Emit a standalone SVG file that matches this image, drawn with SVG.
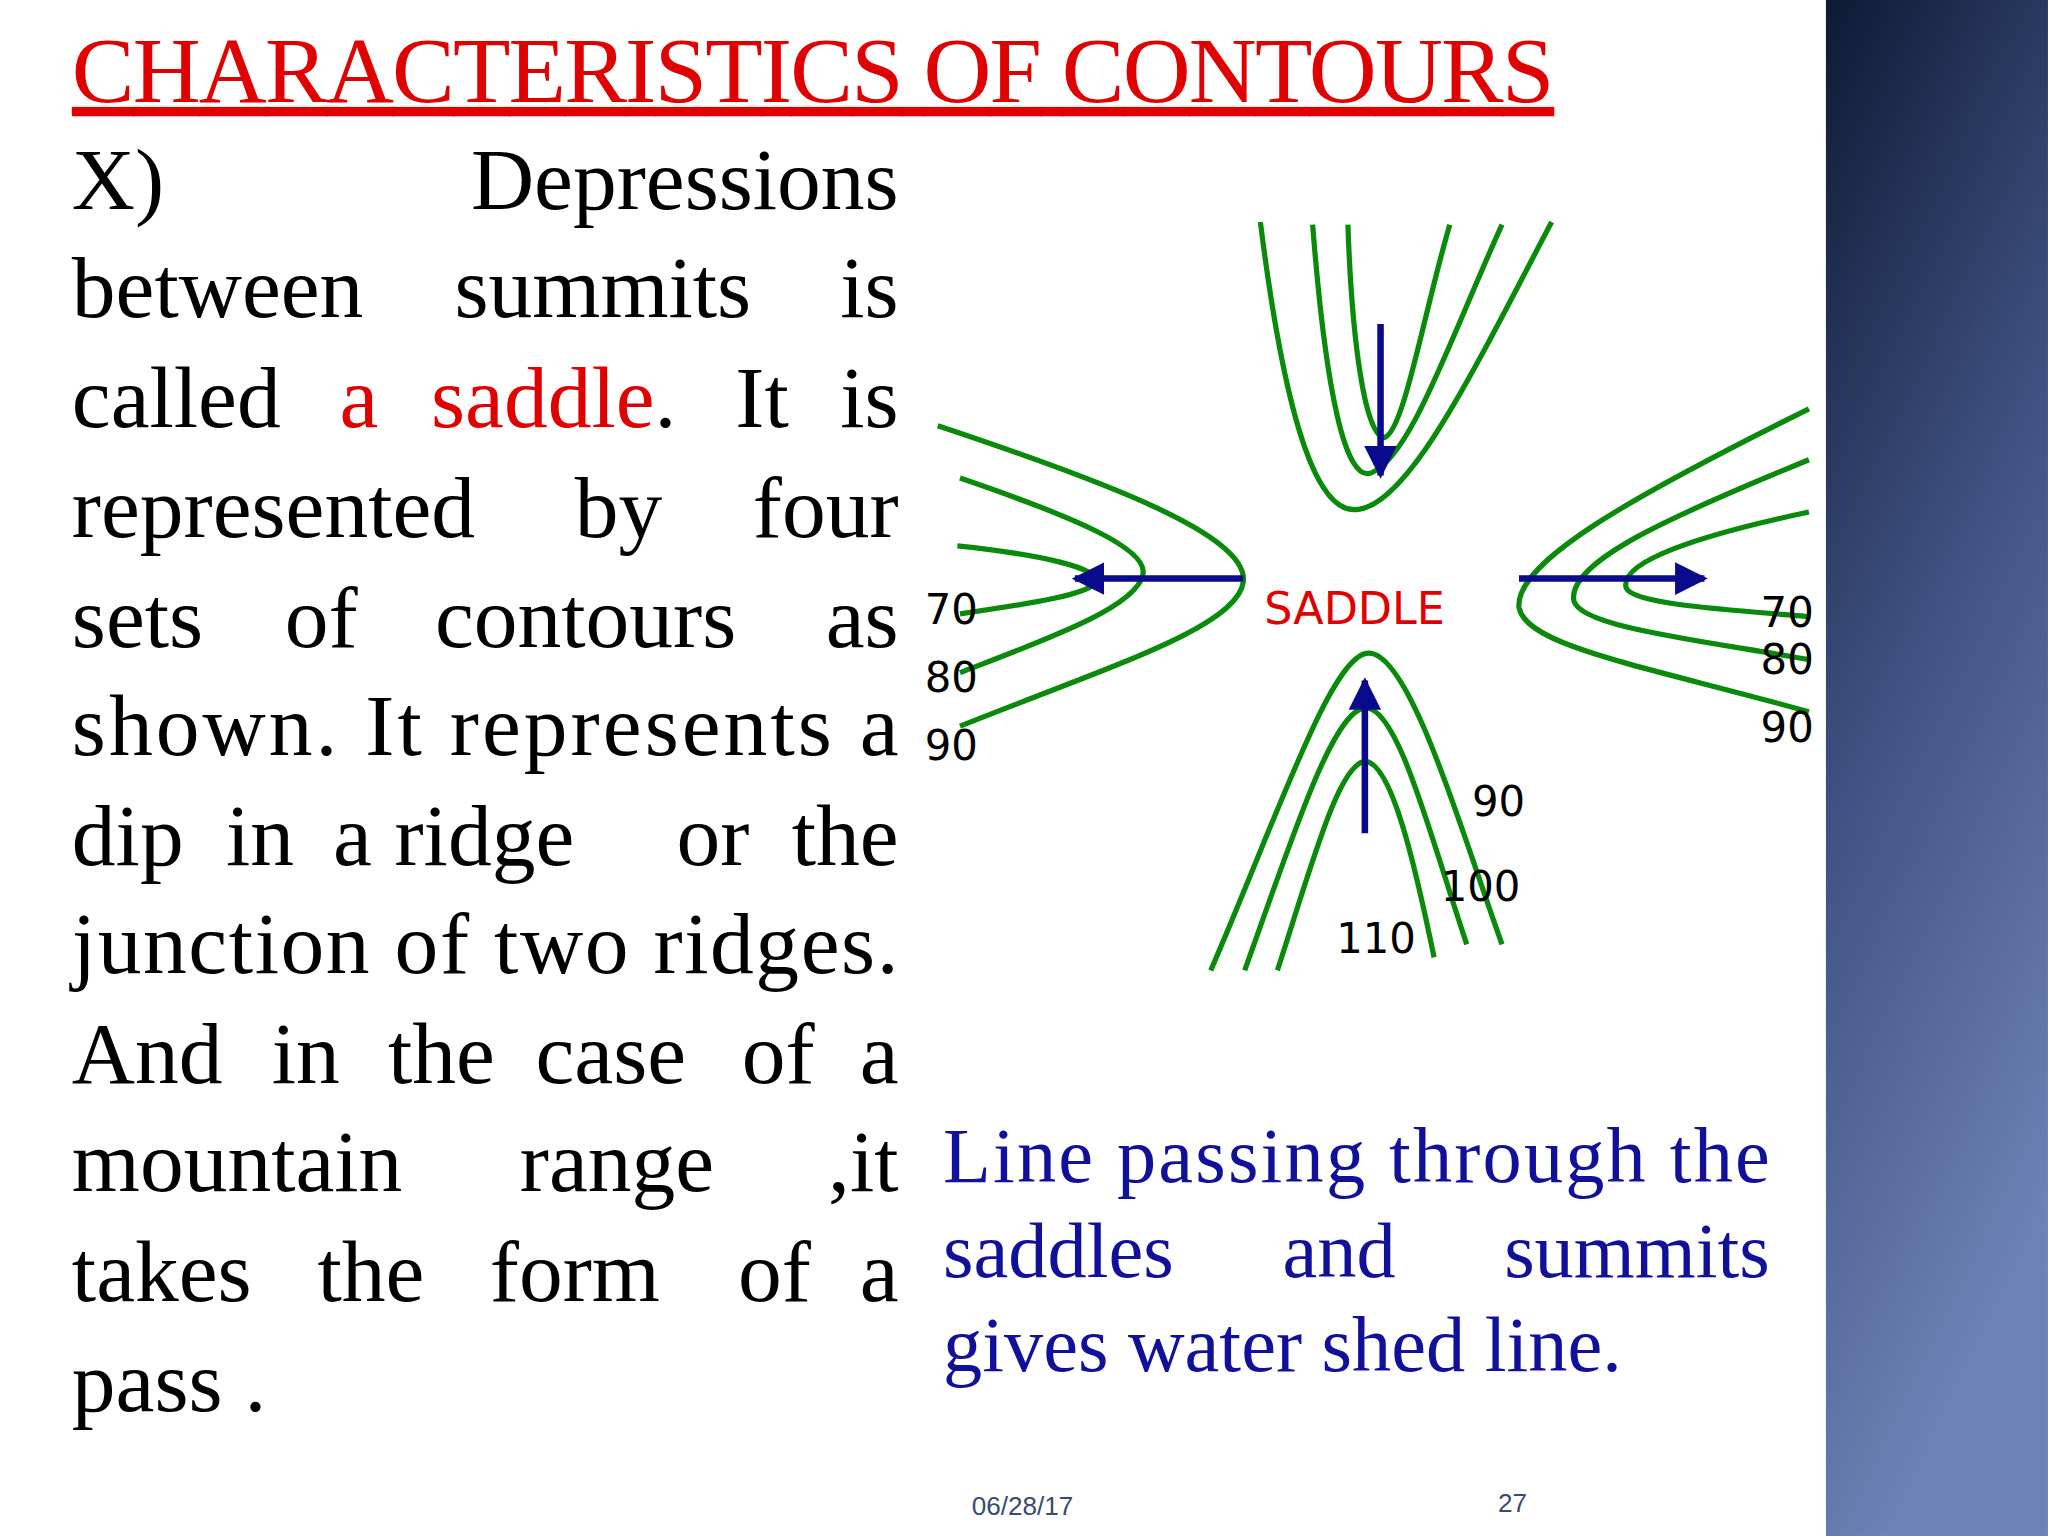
<svg xmlns="http://www.w3.org/2000/svg" width="2048" height="1536" viewBox="0 0 2048 1536">
<defs>
<linearGradient id="pg" x1="0" y1="0" x2="0.3" y2="1"><stop offset="0" stop-color="#0e1a33"/><stop offset="0.5" stop-color="#3f5283"/><stop offset="1" stop-color="#6d82b6"/></linearGradient>
<marker id="ah" viewBox="0 0 10 10" refX="9" refY="5" markerWidth="5" markerHeight="5" orient="auto"><path d="M0,0 L10,5 L0,10 z" fill="#0a0a8c"/></marker>
<style>
.b{font-family:"Liberation Serif",serif;font-size:67px;fill:#000}
.r{fill:#e00000}
.bl{font-family:"Liberation Serif",serif;font-size:60px;fill:#10109a}
.c{fill:none;stroke:#0a8a0a;stroke-width:4}
.a{stroke:#0a0a8c;stroke-width:5;marker-end:url(#ah)}
.l{font-family:"DejaVu Sans",sans-serif;font-size:32px;fill:#000}
.f{font-family:"Liberation Sans",sans-serif;font-size:20px;fill:#3a4a70}
</style>
</defs>
<rect width="2048" height="1536" fill="#fff"/>
<g transform="scale(1.3061)">
<rect x="1398" y="0" width="170" height="1176" fill="url(#pg)"/>
<g id="title"><text x="55" y="78" class="b r" font-size="72" style="font-size:72px" textLength="1135" text-decoration="underline">CHARACTERISTICS OF CONTOURS</text></g>
<g id="body">
<text class="b" x="55" y="160">X)</text><text class="b" x="688" y="160" text-anchor="end">Depressions</text>
<text class="b" x="55" y="243">between</text><text class="b" x="348" y="243">summits</text><text class="b" x="688" y="243" text-anchor="end">is</text>
<text class="b" x="55" y="327">called <tspan class="r" x="260">a</tspan><tspan class="r" x="330">saddle</tspan>.</text><text class="b" x="563" y="327">It</text><text class="b" x="688" y="327" text-anchor="end">is</text>
<text class="b" x="55" y="411">represented</text><text class="b" x="440" y="411">by</text><text class="b" x="688" y="411" text-anchor="end">four</text>
<text class="b" x="55" y="495">sets</text><text class="b" x="218" y="495">of</text><text class="b" x="333" y="495">contours</text><text class="b" x="688" y="495" text-anchor="end">as</text>
<text class="b" x="55" y="578" textLength="633" lengthAdjust="spacing">shown. It represents a</text>
<text class="b" x="55" y="662">dip</text><text class="b" x="173" y="662">in</text><text class="b" x="255" y="662">a</text><text class="b" x="302" y="662">ridge</text><text class="b" x="518" y="662">or</text><text class="b" x="688" y="662" text-anchor="end">the</text>
<text class="b" x="55" y="745" textLength="633" lengthAdjust="spacing">junction of two ridges.</text>
<text class="b" x="55" y="829">And</text><text class="b" x="208" y="829">in</text><text class="b" x="297" y="829">the</text><text class="b" x="410" y="829">case</text><text class="b" x="568" y="829">of</text><text class="b" x="688" y="829" text-anchor="end">a</text>
<text class="b" x="55" y="912">mountain</text><text class="b" x="398" y="912">range</text><text class="b" x="688" y="912" text-anchor="end">,it</text>
<text class="b" x="55" y="996">takes</text><text class="b" x="243" y="996">the</text><text class="b" x="375" y="996">form</text><text class="b" x="565" y="996">of</text><text class="b" x="688" y="996" text-anchor="end">a</text>
<text class="b" x="55" y="1080">pass .</text>
</g>
<g id="note">
<text class="bl" x="722" y="905" textLength="633" lengthAdjust="spacing">Line passing through the</text>
<text class="bl" x="722" y="978">saddles</text><text class="bl" x="982" y="978">and</text><text class="bl" x="1355" y="978" text-anchor="end">summits</text>
<text class="bl" x="722" y="1050">gives water shed line.</text>
</g>
<g id="contours">
<path class="c" d="M965,170 C985,330 1010,395 1040,390 C1080,385 1130,280 1188,170"/>
<path class="c" d="M1005,172 C1015,300 1030,370 1050,362 C1080,350 1110,260 1150,172"/>
<path class="c" d="M1032,172 C1035,260 1045,335 1060,335 C1075,330 1090,240 1110,172"/>
<path class="c" d="M718,326 C850,370 955,410 952,445 C948,480 850,510 735,556"/>
<path class="c" d="M735,366 C820,395 880,420 875,440 C870,465 800,490 735,515"/>
<path class="c" d="M733,418 C800,425 840,435 840,445 C835,455 790,462 735,470"/>
<path class="c" d="M1385,313 C1250,380 1160,430 1163,465 C1168,495 1260,510 1385,545"/>
<path class="c" d="M1385,352 C1280,395 1200,430 1205,460 C1210,480 1300,490 1385,505"/>
<path class="c" d="M1385,392 C1300,410 1240,430 1245,450 C1250,462 1310,466 1385,472"/>
<path class="c" d="M927,743 C980,620 1020,500 1048,500 C1080,500 1120,640 1150,723"/>
<path class="c" d="M953,743 C990,640 1020,545 1045,542 C1070,540 1095,640 1123,723"/>
<path class="c" d="M978,743 C1005,660 1025,585 1045,583 C1065,583 1083,660 1098,733"/>
</g>
<g id="connectors">
<line class="a" x1="1057" y1="248" x2="1057" y2="364"/>
<line class="a" x1="952" y1="443" x2="823" y2="443"/>
<line class="a" x1="1163" y1="443" x2="1305" y2="443"/>
<line class="a" x1="1045" y1="638" x2="1045" y2="521"/>
</g>
<g id="labels">
<text class="l" x="708" y="478">70</text><text class="l" x="708" y="530">80</text><text class="l" x="708" y="582">90</text>
<text class="l" x="1348" y="480">70</text><text class="l" x="1348" y="516">80</text><text class="l" x="1348" y="568">90</text>
<text class="l" x="1127" y="625">90</text><text class="l" x="1103" y="690">100</text><text class="l" x="1023" y="730">110</text>
<text class="l" x="968" y="478" style="fill:#e00000;font-size:34px">SADDLE</text>
</g>
<g id="footer"><text class="f" x="744" y="1160">06/28/17</text><text class="f" x="1147" y="1158">27</text></g>
</g>
</svg>
